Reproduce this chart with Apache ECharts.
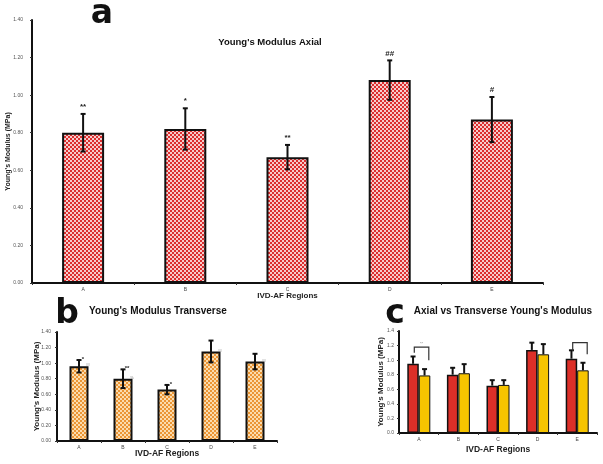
<!DOCTYPE html>
<html><head><meta charset="utf-8">
<script src="https://cdn.jsdelivr.net/npm/echarts@6/dist/echarts.min.js"></script>
<style>html,body{margin:0;padding:0;background:#fff}#c{width:603px;height:464px}</style>
</head><body><div id="c"></div>
<script>
// ---- data ----
const categories = ['A', 'B', 'C', 'D', 'E'];
const axialMean = [0.80, 0.82, 0.67, 1.08, 0.87];
const axialErr = [0.10, 0.11, 0.065, 0.105, 0.12];
const axialMarks = ['**', '*', '**', '##', '#'];
const transMean = [0.96, 0.80, 0.66, 1.15, 1.02];
const transErr = [0.08, 0.12, 0.06, 0.14, 0.10];
const transMarks = ['*', '**', '*', '', ''];
const transSmallMarks = ['##', '%', '', '##', '##'];
const cmpRedMean = [0.95, 0.80, 0.65, 1.14, 1.02];
const cmpRedErr = [0.10, 0.095, 0.075, 0.10, 0.115];
const cmpYellowMean = [0.79, 0.82, 0.66, 1.08, 0.86];
const cmpYellowErr = [0.087, 0.125, 0.065, 0.14, 0.104];
// brackets: [category, top, left leg bottom, right leg bottom]
const cmpBrackets = [[0, 1.18, 1.10, 1.00], [4, 1.24, 1.13, 1.08]];
const cmpBracketMarks = ['**', ''];

function checker(c1, c2, s) {
  const cv = document.createElement('canvas');
  cv.width = cv.height = 2 * s;
  const g = cv.getContext('2d');
  g.fillStyle = c2; g.fillRect(0, 0, 2 * s, 2 * s);
  g.fillStyle = c1; g.fillRect(0, 0, s, s); g.fillRect(s, s, s, s);
  return cv;
}
const patA = { image: checker('#dc2f2f', '#f6cccc', 2), repeat: 'repeat' };
const patB = { image: checker('#eb9535', '#fbdcae', 2), repeat: 'repeat' };

const FONT = 'Liberation Sans, Arial, sans-serif';

function xAx(gi) {
  return {
    type: 'category', gridIndex: gi, data: categories,
    axisLine: { lineStyle: { color: '#111', width: 2 } },
    axisTick: { show: true, length: 2, lineStyle: { color: '#333' } },
    axisLabel: { fontSize: 5, color: '#444', margin: 4, fontFamily: FONT },
    name: 'IVD-AF Regions', nameLocation: 'middle', nameMoveOverlap: false,
    nameTextStyle: { fontSize: 8, fontWeight: 'bold', color: '#222', fontFamily: FONT }
  };
}
function yAx(gi, digits, gap, labMargin, nameSize) {
  return {
    type: 'value', gridIndex: gi, min: 0, max: 1.4, interval: 0.2,
    axisLine: { show: true, lineStyle: { color: '#111', width: 2 } },
    axisTick: { show: true, length: 2, lineStyle: { color: '#333' } },
    splitLine: { show: false },
    axisLabel: { fontSize: 5, color: '#555', margin: labMargin, fontFamily: FONT,
      formatter: v => v.toFixed(digits) },
    name: "Young's Modulus (MPa)", nameLocation: 'middle', nameGap: gap, nameMoveOverlap: false,
    nameTextStyle: { fontSize: nameSize, fontWeight: 'bold', color: '#222', fontFamily: FONT }
  };
}

function errSeries(gi, mean, err, o) {
  return {
    type: 'custom', xAxisIndex: gi, yAxisIndex: gi, z: 10, silent: true,
    encode: { x: 0, y: 1 },
    data: mean.map((m, i) => [i, m, err[i]]),
    renderItem: function (params, api) {
      const i = api.value(0), m = api.value(1), e = api.value(2);
      const t = api.coord([i, m + e]);
      const b = api.coord([i, o.both ? m - e : m]);
      const x = t[0] + (o.offset || 0);
      const st = { stroke: '#111', lineWidth: o.lw };
      const ch = [
        { type: 'line', shape: { x1: x, y1: t[1], x2: x, y2: b[1] }, style: st },
        { type: 'line', shape: { x1: x - o.cap, y1: t[1], x2: x + o.cap, y2: t[1] }, style: st }
      ];
      if (o.both) ch.push({ type: 'line', shape: { x1: x - o.cap, y1: b[1], x2: x + o.cap, y2: b[1] }, style: st });
      const mk = o.marks ? o.marks[params.dataIndex] : '';
      if (mk) ch.push({ type: 'text', style: { text: mk, x: x + (o.markDx || 0), y: t[1] - (o.markDy || 2),
        align: 'center', verticalAlign: 'bottom', font: 'bold ' + o.markSize + 'px ' + FONT, fill: '#222' } });
      const sm = o.small ? o.small[params.dataIndex] : '';
      if (sm) {
        const mt = api.coord([i, m]);
        ch.push({ type: 'text', style: { text: sm, x: mt[0] + o.smallDx, y: mt[1] + 1,
          align: 'center', verticalAlign: 'bottom', font: '4px ' + FONT, fill: '#888' } });
      }
      return { type: 'group', children: ch };
    }
  };
}

const chart = echarts.init(document.getElementById('c'), null, { renderer: 'canvas' });
const xa = xAx(0); xa.nameGap = 9;
const xb = xAx(1); xb.nameGap = 8; xb.nameTextStyle.fontSize = 8.5;
const xc = xAx(2); xc.nameGap = 12; xc.nameTextStyle.fontSize = 8.5;

chart.setOption({
  animation: false,
  backgroundColor: '#fff',
  grid: [
    { left: 32, right: 60, top: 20, bottom: 181, outerBoundsMode: 'none', containLabel: false },
    { left: 57, right: 326, top: 332, bottom: 23, outerBoundsMode: 'none', containLabel: false },
    { left: 399, right: 6, top: 331, bottom: 31, outerBoundsMode: 'none', containLabel: false }
  ],
  xAxis: [xa, xb, xc],
  yAxis: [yAx(0, 2, 20, 9, 7), yAx(1, 2, 16, 6, 8), yAx(2, 1, 14, 5, 8)],
  graphic: [
    { type: 'text', x: 102, y: 14, style: { text: 'a', font: 'bold 33px DejaVu Sans', fill: '#111', align: 'center', verticalAlign: 'middle' } },
    { type: 'text', x: 67, y: 314, style: { text: 'b', font: 'bold 33px DejaVu Sans', fill: '#111', align: 'center', verticalAlign: 'middle' } },
    { type: 'text', x: 395, y: 314, style: { text: 'c', font: 'bold 33px DejaVu Sans', fill: '#111', align: 'center', verticalAlign: 'middle' } },
    { type: 'text', x: 270, y: 42, style: { text: "Young's Modulus Axial", font: 'bold 9.5px ' + FONT, fill: '#111', align: 'center', verticalAlign: 'middle' } },
    { type: 'text', x: 158, y: 311, style: { text: "Young's Modulus Transverse", font: 'bold 10px ' + FONT, fill: '#111', align: 'center', verticalAlign: 'middle' } },
    { type: 'text', x: 503, y: 311, style: { text: "Axial vs Transverse Young's Modulus", font: 'bold 10px ' + FONT, fill: '#111', align: 'center', verticalAlign: 'middle' } }
  ],
  series: [
    { type: 'bar', xAxisIndex: 0, yAxisIndex: 0, data: axialMean, barWidth: 42,
      itemStyle: { color: patA, borderColor: '#111', borderWidth: 2 } },
    errSeries(0, axialMean, axialErr, { both: true, lw: 2, cap: 2.5, marks: axialMarks, markSize: 8, markDy: 3 }),
    { type: 'bar', xAxisIndex: 1, yAxisIndex: 1, data: transMean, barWidth: 19,
      itemStyle: { color: patB, borderColor: '#111', borderWidth: 2 } },
    errSeries(1, transMean, transErr, { both: true, lw: 2, cap: 2.5, marks: transMarks, markSize: 6, markDx: 4, markDy: -2,
      small: transSmallMarks, smallDx: 9 }),
    { type: 'bar', xAxisIndex: 2, yAxisIndex: 2, data: cmpRedMean, barWidth: 11.5, barGap: '0%',
      itemStyle: { color: '#dc2f28', borderColor: '#111', borderWidth: 1.5 } },
    { type: 'bar', xAxisIndex: 2, yAxisIndex: 2, data: cmpYellowMean, barWidth: 11.5, barGap: '0%',
      itemStyle: { color: '#f6c400', borderColor: '#111', borderWidth: 1 } },
    errSeries(2, cmpRedMean, cmpRedErr, { both: false, lw: 2, cap: 2.5, offset: -5.75 }),
    errSeries(2, cmpYellowMean, cmpYellowErr, { both: false, lw: 2, cap: 2.5, offset: 5.75 }),
    {
      type: 'custom', xAxisIndex: 2, yAxisIndex: 2, z: 11, silent: true,
      encode: { x: 0, y: 1 },
      data: cmpBrackets,
      renderItem: function (params, api) {
        const i = api.value(0);
        const t = api.coord([i, api.value(1)]);
        const l = api.coord([i, api.value(2)]);
        const r = api.coord([i, api.value(3)]);
        const x1 = t[0] - 4.5, x2 = t[0] + 10;
        const st = { stroke: '#333', lineWidth: 1.2, fill: null };
        const ch = [{ type: 'polyline', shape: { points: [[x1, l[1]], [x1, t[1]], [x2, t[1]], [x2, r[1]]] }, style: st }];
        const mk = cmpBracketMarks[params.dataIndex];
        if (mk) ch.push({ type: 'text', style: { text: mk, x: (x1 + x2) / 2, y: t[1] - 1, align: 'center', verticalAlign: 'bottom', font: '4px ' + FONT, fill: '#888' } });
        return { type: 'group', children: ch };
      }
    }
  ]
});
</script></body></html>
